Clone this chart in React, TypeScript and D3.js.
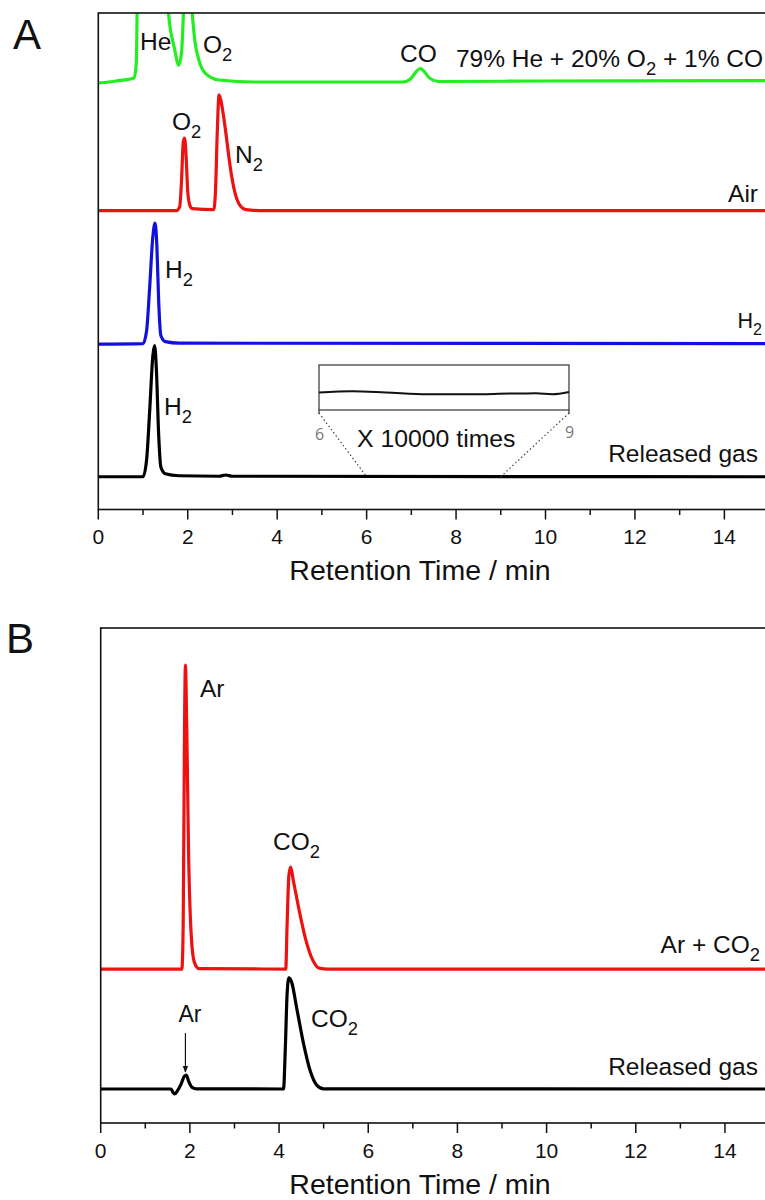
import React from 'react';
import * as d3 from 'd3';

type Pt = [number, number];

// ---------- shared axis ----------
const X_DOMAIN: [number, number] = [0, 15];
const X_MAJOR = [0, 2, 4, 6, 8, 10, 12, 14];
const X_MINOR = [1, 3, 5, 7, 9, 11, 13];
const X_TITLE = 'Retention Time / min';

// ---------- Panel A traces: [time (min), signal (a.u.)] ----------
const A_GREEN_MIX: Pt[] = [
  [0, 85.9], [0.4, 86.3], [0.8, 86.9], [0.85, 90], [0.88, 110], [0.95, 140], [1.2, 160],
  [1.45, 130], [1.57, 100], [1.7, 93], [1.8, 89.5], [1.86, 92], [1.92, 105], [2.0, 140],
  [2.08, 104], [2.14, 96], [2.25, 90.5], [2.4, 87.8], [2.7, 86.5], [3.5, 86.1], [6.8, 86.1],
  [6.95, 86.5], [7.2, 88.8], [7.42, 86.8], [7.6, 86.2], [10, 86.3], [15, 86.4],
];
const A_RED_AIR: Pt[] = [
  [0, 60.2], [1.75, 60.2], [1.82, 61], [1.86, 66], [1.9, 74], [1.93, 74.8], [1.97, 70],
  [2.0, 64], [2.05, 61.2], [2.1, 60.6], [2.58, 60.4], [2.62, 64], [2.66, 76], [2.7, 83.5],
  [2.75, 82], [2.85, 76], [2.95, 69], [3.05, 64], [3.15, 61.5], [3.3, 60.4], [3.6, 60.2], [15, 60.2],
];
const A_BLUE_H2: Pt[] = [
  [0, 33.3], [1.0, 33.4], [1.08, 36], [1.15, 45], [1.22, 55], [1.27, 57.7], [1.31, 53],
  [1.35, 42], [1.4, 35], [1.5, 33.8], [1.8, 33.5], [15, 33.4],
];
const A_BLACK_RELEASED: Pt[] = [
  [0, 6.6], [1.0, 6.6], [1.08, 10], [1.15, 20], [1.22, 31], [1.26, 33], [1.3, 28],
  [1.35, 15], [1.4, 8.5], [1.5, 7.2], [1.8, 6.8], [2.7, 6.7], [2.85, 6.95], [3.0, 6.7], [15, 6.6],
];
// inset: released gas between 6 and 9 min magnified x10000
const INSET_TRACE: Pt[] = [
  [6, -0.22], [6.4, -0.17], [6.8, -0.22], [7.3, -0.3], [7.8, -0.3], [8.3, -0.27], [8.6, -0.26],
  [8.8, -0.3], [9, -0.2],
];
const INSET_RANGE = [6, 9];

// ---------- Panel B traces ----------
const B_RED_AR_CO2: Pt[] = [
  [0, 31.1], [1.82, 31.1], [1.85, 40], [1.88, 80], [1.9, 92.5], [1.93, 80], [1.97, 55],
  [2.03, 38], [2.1, 32.5], [2.2, 31.2], [4.15, 31.1], [4.18, 40], [4.22, 50], [4.26, 51.7],
  [4.32, 49], [4.45, 43], [4.6, 37], [4.75, 33], [4.9, 31.3], [5.1, 31.1], [15, 31.1],
];
const B_BLACK_RELEASED: Pt[] = [
  [0, 6.87], [1.58, 6.87], [1.62, 6.2], [1.66, 5.86], [1.72, 6.5], [1.8, 7.8], [1.88, 9.5],
  [1.92, 9.7], [1.97, 8.5], [2.05, 7.2], [2.15, 6.9], [4.1, 6.87], [4.14, 15], [4.18, 26],
  [4.22, 29.3], [4.28, 28.5], [4.4, 23], [4.55, 16], [4.7, 10.5], [4.85, 7.6], [5.0, 6.9], [15, 6.87],
];

const FONT = '"Liberation Sans", Arial, Helvetica, sans-serif';
const LS = 24.5;

type Seg = { t: string; sub?: boolean };
const s = (str: string): Seg[] =>
  str.split(/(_\d)/).filter(Boolean).map((p) => (p.startsWith('_') ? { t: p.slice(1), sub: true } : { t: p }));

function Label({ x, y, text, size = LS, anchor = 'start', fill = '#111' }:
  { x: number; y: number; text: string; size?: number; anchor?: string; fill?: string }) {
  const segs = s(text);
  const off = size * 0.32;
  let cur = 0;
  return (
    <text x={x} y={y} fontSize={size} textAnchor={anchor as any} fill={fill} fontFamily={FONT}>
      {segs.map((g, i) => {
        const target = g.sub ? off : 0;
        const dy = target - cur;
        cur = target;
        return (
          <tspan key={i} dy={dy} fontSize={g.sub ? size * 0.75 : size}>{g.t}</tspan>
        );
      })}
    </text>
  );
}

function Axis({ x, top, bottom, tickSize, labelY, titleY }:
  { x: d3.ScaleLinear<number, number>; top: number; bottom: number; tickSize: number; labelY: number; titleY: number }) {
  const x0 = x(X_DOMAIN[0]);
  const x1 = x(X_DOMAIN[1]);
  return (
    <g>
      <rect x={x0} y={top} width={x1 - x0} height={bottom - top} fill="none" stroke="#111" strokeWidth={1.6} />
      {X_MAJOR.map((t) => (
        <g key={'M' + t}>
          <line x1={x(t)} x2={x(t)} y1={bottom} y2={bottom + 10} stroke="#111" strokeWidth={1.5} />
          <text x={x(t)} y={labelY} textAnchor="middle" fontSize={tickSize} fontFamily={FONT} fill="#111">{t}</text>
        </g>
      ))}
      {X_MINOR.map((t) => (
        <line key={'m' + t} x1={x(t)} x2={x(t)} y1={bottom} y2={bottom + 5.5} stroke="#111" strokeWidth={1.5} />
      ))}
      <text x={420} y={titleY} textAnchor="middle" fontSize={28.5} fontFamily={FONT} fill="#111">{X_TITLE}</text>
    </g>
  );
}

export default function App() {
  const W = 765;
  const H = 1200;

  const xA = d3.scaleLinear().domain(X_DOMAIN).range([98.3, 98.3 + 15 * 44.72]);
  const yA = d3.scaleLinear().domain([0, 100]).range([509.5, 13]);
  const xB = d3.scaleLinear().domain(X_DOMAIN).range([100.7, 100.7 + 15 * 44.59]);
  const yB = d3.scaleLinear().domain([0, 100]).range([1123, 628]);

  const lineA = d3.line<Pt>().x((d) => xA(d[0])).y((d) => yA(d[1])).curve(d3.curveMonotoneX);
  const lineB = d3.line<Pt>().x((d) => xB(d[0])).y((d) => yB(d[1])).curve(d3.curveMonotoneX);

  // inset box
  const inset = { x0: 319, x1: 569, y0: 365, y1: 410 };
  const xi = d3.scaleLinear().domain(INSET_RANGE).range([inset.x0, inset.x1]);
  const yi = d3.scaleLinear().domain([-1, 1]).range([inset.y1, inset.y0]);
  const lineI = d3.line<Pt>().x((d) => xi(d[0])).y((d) => yi(d[1])).curve(d3.curveMonotoneX);
  const relBase = yA(A_BLACK_RELEASED[0][1]);

  const arrowX = xB(1.9);

  return (
    <>
      <style>{'body{margin:0}'}</style>
      <svg width={W} height={H} style={{ display: 'block', background: '#fff' }}>
        <defs>
          <clipPath id="clipA"><rect x={xA(0)} y={13} width={xA(15) - xA(0)} height={509.5 - 13} /></clipPath>
          <clipPath id="clipB"><rect x={xB(0)} y={628} width={xB(15) - xB(0)} height={1123 - 628} /></clipPath>
          <marker id="arr" viewBox="0 0 10 10" refX={9} refY={5} markerWidth={7} markerHeight={9} orient="auto" markerUnits="userSpaceOnUse">
            <path d="M0,1 L10,5 L0,9 z" fill="#111" />
          </marker>
        </defs>

        {/* Panel A */}
        <text x={13} y={49} fontSize={42} fontFamily={FONT} fill="#111">A</text>
        <g clipPath="url(#clipA)" fill="none" strokeWidth={3.2} strokeLinejoin="round">
          <path d={lineA(A_GREEN_MIX) || ''} stroke="#22ee22" />
          <path d={lineA(A_RED_AIR) || ''} stroke="#ee1111" />
          <path d={lineA(A_BLUE_H2) || ''} stroke="#1111dd" />
          <path d={lineA(A_BLACK_RELEASED) || ''} stroke="#000" />
        </g>
        <Axis x={xA} top={13} bottom={509.5} tickSize={21} labelY={544} titleY={580} />

        {/* inset */}
        <rect x={inset.x0} y={inset.y0} width={inset.x1 - inset.x0} height={inset.y1 - inset.y0} fill="none" stroke="#333" strokeWidth={1.2} />
        <line x1={inset.x0} x2={inset.x0} y1={inset.y1} y2={inset.y1 + 4} stroke="#333" strokeWidth={1.2} />
        <line x1={inset.x1} x2={inset.x1} y1={inset.y1} y2={inset.y1 + 4} stroke="#333" strokeWidth={1.2} />
        <path d={lineI(INSET_TRACE) || ''} fill="none" stroke="#111" strokeWidth={2} />
        <line x1={inset.x0} y1={inset.y1 + 3} x2={xA(INSET_RANGE[0])} y2={relBase} stroke="#444" strokeWidth={1.2} strokeDasharray="1.5,2.5" />
        <line x1={inset.x1} y1={inset.y1 + 3} x2={xA(INSET_RANGE[1])} y2={relBase} stroke="#444" strokeWidth={1.2} strokeDasharray="1.5,2.5" />
        <text x={inset.x0 - 4} y={440} fontSize={16} fontFamily='"Open Sans", sans-serif' fill="#777">{INSET_RANGE[0]}</text>
        <text x={inset.x1 - 4} y={438} fontSize={16} fontFamily='"Open Sans", sans-serif' fill="#777">{INSET_RANGE[1]}</text>
        <Label x={357} y={447} text="X 10000 times" size={24.8} />

        <Label x={140} y={50} text="He" />
        <Label x={203} y={53} text="O_2" />
        <Label x={400} y={62} text="CO" />
        <Label x={763} y={67} text="79% He + 20% O_2 + 1% CO" anchor="end" />
        <Label x={172} y={130} text="O_2" />
        <Label x={235} y={163} text="N_2" />
        <Label x={758} y={202} text="Air" anchor="end" />
        <Label x={165} y={278} text="H_2" />
        <Label x={762} y={328} text="H_2" size={21.5} anchor="end" />
        <Label x={164} y={415} text="H_2" />
        <Label x={758} y={462} text="Released gas" anchor="end" />

        {/* Panel B */}
        <text x={6} y={653} fontSize={42} fontFamily={FONT} fill="#111">B</text>
        <g clipPath="url(#clipB)" fill="none" strokeWidth={3.2} strokeLinejoin="round">
          <path d={lineB(B_RED_AR_CO2) || ''} stroke="#ee1111" />
          <path d={lineB(B_BLACK_RELEASED) || ''} stroke="#000" />
        </g>
        <Axis x={xB} top={628} bottom={1123} tickSize={21} labelY={1158} titleY={1194} />

        <Label x={200} y={697} text="Ar" />
        <Label x={273} y={850} text="CO_2" />
        <Label x={760} y={953} text="Ar + CO_2" anchor="end" />
        <Label x={190} y={1022} text="Ar" size={23} anchor="middle" />
        <line x1={arrowX} x2={arrowX} y1={1033} y2={1072} stroke="#111" strokeWidth={1.2} markerEnd="url(#arr)" />
        <Label x={311} y={1027} text="CO_2" />
        <Label x={758} y={1075} text="Released gas" anchor="end" />
      </svg>
    </>
  );
}
